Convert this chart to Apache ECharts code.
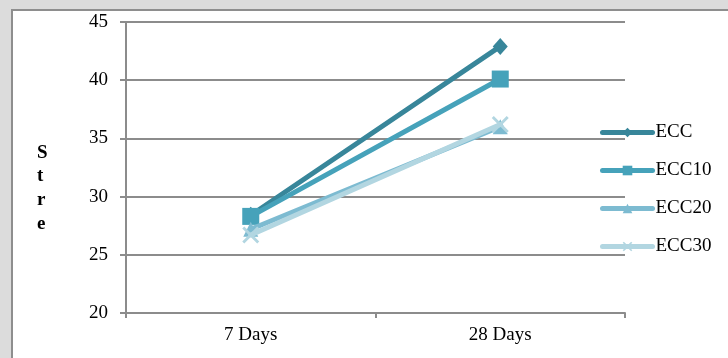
<!DOCTYPE html>
<html><head><meta charset="utf-8">
<script src="https://cdn.jsdelivr.net/npm/echarts@6/dist/echarts.min.js"></script>
<style>html,body{margin:0;padding:0;background:#dcdcdc;}#c{width:728px;height:358px;}</style>
</head><body><div id="c"></div>
<script>
const categories = ['7 Days', '28 Days'];
const seriesNames = ['ECC', 'ECC10', 'ECC20', 'ECC30'];
const ecc = [28.4, 42.9];
const ecc10 = [28.3, 40.1];
const ecc20 = [27.2, 36.0];
const ecc30 = [26.7, 36.2];
const yTicks = [20, 25, 30, 35, 40, 45];
const yTitle = 'S\nt\nr\ne';

const colors = ['#38869a', '#46a2ba', '#7dbbd1', '#b2d6e1'];
const xPath = 'path://M0,1.2 L1.2,0 L5,3.8 L8.8,0 L10,1.2 L6.2,5 L10,8.8 L8.8,10 L5,6.2 L1.2,10 L0,8.8 L3.8,5 Z';
const symbols = ['diamond', 'rect', 'triangle', xPath];
const sizes = [[15, 17], 17, 15, 17];
const dataSets = [ecc, ecc10, ecc20, ecc30];
const font = '"Liberation Serif", "Times New Roman", serif';

const chart = echarts.init(document.getElementById('c'));
chart.setOption({
  backgroundColor: '#dcdcdc',
  animation: false,
  graphic: [
    { type: 'rect', z: -10, shape: { x: 12, y: 10, width: 730, height: 360 },
      style: { fill: '#ffffff', stroke: '#8e8e8e', lineWidth: 2 } },
    { type: 'text', left: 37, top: 141, z: 10,
      style: { text: yTitle, font: 'bold 19px ' + font, fill: '#000', lineHeight: 23.7, align: 'center' } }
  ],
  grid: { left: 126, right: 103, top: 22, bottom: 45, containLabel: false },
  legend: {
    orient: 'vertical', left: 595, top: 118, itemGap: 19,
    itemWidth: 50, itemHeight: 12,
    data: seriesNames,
    lineStyle: { width: 5, cap: 'round' },
    textStyle: { fontFamily: font, fontSize: 19, color: '#000', padding: [0, 0, 0, -2] }
  },
  xAxis: {
    type: 'category', data: categories, boundaryGap: true,
    axisLine: { lineStyle: { color: '#8c8c8c', width: 2 } },
    axisTick: { show: true, length: 5, lineStyle: { color: '#8c8c8c', width: 2 }, alignWithLabel: false },
    axisLabel: { fontFamily: font, fontSize: 19, color: '#000', margin: 13 }
  },
  yAxis: {
    type: 'value', min: yTicks[0], max: yTicks[yTicks.length - 1], interval: 5,
    axisLine: { show: true, lineStyle: { color: '#8c8c8c', width: 2 } },
    axisTick: { show: true, length: 6, lineStyle: { color: '#8c8c8c', width: 2 } },
    axisLabel: { fontFamily: font, fontSize: 19, color: '#000', margin: 18 },
    splitLine: { lineStyle: { color: '#8c8c8c', width: 2 } }
  },
  series: seriesNames.map((n, i) => ({
    name: n, type: 'line', data: dataSets[i],
    symbol: symbols[i], symbolSize: sizes[i], showSymbol: true,
    color: colors[i],
    lineStyle: { width: 5, color: colors[i], cap: 'round', join: 'round' },
    itemStyle: { color: colors[i] },
    z: 3 + i
  }))
});
</script></body></html>
